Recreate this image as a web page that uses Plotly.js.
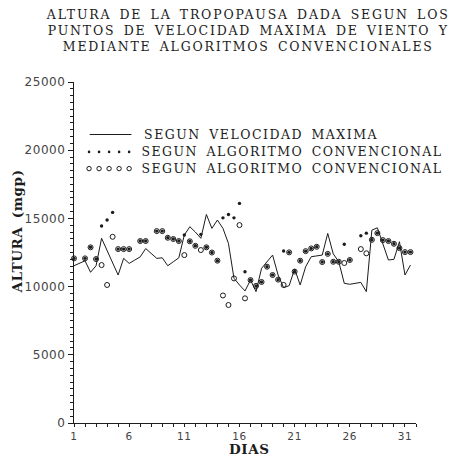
<!DOCTYPE html>
<html>
<head>
<meta charset="utf-8">
<script src="https://cdn.plot.ly/plotly-3.0.1.min.js"></script>
<style>
  html, body { margin: 0; padding: 0; background: #fff; }
  #chart { width: 453px; height: 456px; }
  .gtitle { letter-spacing: 1.8px; word-spacing: 2.5px; }
  .annotation-text { letter-spacing: 0.6px; word-spacing: 3px; }
  .annotation[data-index="0"] .annotation-text,
  .annotation[data-index="1"] .annotation-text,
  .annotation[data-index="2"] .annotation-text { letter-spacing: 1.5px; word-spacing: 3px; }
  .xtick text, .ytick text { letter-spacing: 0.6px; }
</style>
</head>
<body>
<div id="chart"></div>
<script>
// Two soundings per day: day 1, 1.5, 2, ... 31.5
const dias = [1, 1.5, 2, 2.5, 3, 3.5, 4, 4.5, 5, 5.5, 6, 6.5, 7, 7.5, 8, 8.5, 9, 9.5, 10, 10.5,
  11, 11.5, 12, 12.5, 13, 13.5, 14, 14.5, 15, 15.5, 16, 16.5, 17, 17.5, 18, 18.5, 19, 19.5, 20, 20.5,
  21, 21.5, 22, 22.5, 23, 23.5, 24, 24.5, 25, 25.5, 26, 26.5, 27, 27.5, 28, 28.5, 29, 29.5, 30, 30.5,
  31, 31.5];

// Tropopause height (mgp) from the maximum wind level
const velocidadMaxima = [11530, 11700, 11890, 11050, 11530, 13540, 12600, 11700, 10850, 12070,
  11700, 11940, 12180, 12790, 12420, 12070, 12110, 11530, 11820, 12110,
  13780, 14390, 14000, 13540, 15290, 14270, 14880, 14270, 13170, 10610,
  10120, 9680, 10480, 9630, 11340, 11830, 12310, 10850, 9920, 10070,
  11290, 10120, 11460, 12190, 12240, 12310, 13900, 12400, 11820, 10240,
  10170, 10240, 10310, 9630, 14140, 14310, 13100, 11950, 12000, 13290,
  10850, 11580];

// Conventional algorithm, first criterion (small dots)
const algoritmoPuntos = [12070, null, 12070, 12880, 12020, 14440, 14880, 15440, 12750, 12750,
  12750, null, 13340, 13340, null, 14070, 14070, 13580, 13490, 13340,
  13780, 13320, 12990, 13830, 12880, 12500, 11900, 15040, 15290, 15040,
  16100, 11090, 10480, 10050, 10340, 11460, 10850, 10510, 12610, 12510,
  11100, 11900, 12600, 12800, 12920, 11800, 12400, 11820, 11820, 13110,
  11950, null, 13730, 13920, 13430, 13920, 13410, 13340, 13140, 12820,
  12530, 12530];

// Conventional algorithm, second criterion (open circles)
const algoritmoCirculos = [12070, null, 12070, 12880, 12020, 11580, 10120, 13650, 12750, 12750,
  12750, null, 13340, 13340, null, 14070, 14070, 13580, 13490, 13340,
  12310, 13320, 12990, 12680, 12880, 12500, 11900, 9350, 8650, 10600,
  14510, 9140, 10480, 10050, 10340, 11460, 10850, 10510, 10120, 12510,
  11100, 11900, 12600, 12800, 12920, 11800, 12400, 11820, 11820, 11730,
  11950, null, 12750, 12440, 13430, 13920, 13410, 13340, 13140, 12820,
  12530, 12530];

const nombresSeries = ['SEGUN VELOCIDAD MAXIMA', 'SEGUN ALGORITMO CONVENCIONAL', 'SEGUN ALGORITMO CONVENCIONAL'];

const INK = '#1c1c1c';
const serif = 'DejaVu Serif, Liberation Serif, serif';
const sans = 'DejaVu Sans, Liberation Sans, sans-serif';

const traces = [
  {
    x: dias, y: velocidadMaxima, type: 'scatter', mode: 'lines',
    line: { color: INK, width: 1 }, cliponaxis: false, showlegend: false
  },
  {
    x: dias, y: algoritmoCirculos, type: 'scatter', mode: 'markers',
    marker: { symbol: 'circle-open', size: 5, color: INK, line: { width: 1, color: INK } },
    cliponaxis: false, showlegend: false
  },
  {
    x: dias, y: algoritmoPuntos, type: 'scatter', mode: 'markers',
    marker: { symbol: 'circle', size: 3.4, color: INK },
    cliponaxis: false, showlegend: false
  }
];

// Hand-drawn key: line sample, row of dots, row of circles
const filas = [0.846, 0.795, 0.746];
const shapes = [{
  type: 'line', xref: 'paper', yref: 'paper',
  x0: 0.046, x1: 0.168, y0: filas[0], y1: filas[0],
  line: { color: INK, width: 1 }
}];
for (let k = 0; k < 5; k++) {
  const xc = 0.044 + k * 0.0293;
  shapes.push({
    type: 'circle', xref: 'paper', yref: 'paper',
    xsizemode: 'pixel', ysizemode: 'pixel', xanchor: xc, yanchor: filas[1],
    x0: -1.3, x1: 1.3, y0: -1.3, y1: 1.3,
    fillcolor: INK, line: { width: 0 }
  });
  shapes.push({
    type: 'circle', xref: 'paper', yref: 'paper',
    xsizemode: 'pixel', ysizemode: 'pixel', xanchor: xc, yanchor: filas[2],
    x0: -2.2, x1: 2.2, y0: -2.2, y1: 2.2,
    line: { color: INK, width: 1 }
  });
}

const annotations = nombresSeries.map((t, k) => ({
  text: t, xref: 'paper', yref: 'paper', x: 0.228, y: filas[k],
  xanchor: 'left', yanchor: 'middle', showarrow: false,
  font: { family: serif, size: 12.5, color: INK }
}));
annotations.push({
  text: 'ALTURA (mgp)', xref: 'paper', yref: 'paper', x: -0.168, y: 0.56,
  xanchor: 'center', yanchor: 'middle', textangle: -90, showarrow: false,
  font: { family: serif, size: 13.5, color: INK, weight: 'bold' }
});
annotations.push({
  text: 'DIAS', xref: 'paper', yref: 'paper', x: 0.514, y: -0.076,
  xanchor: 'center', yanchor: 'middle', showarrow: false,
  font: { family: serif, size: 13.5, color: INK, weight: 'bold' }
});

const layout = {
  width: 453, height: 456,
  paper_bgcolor: '#fff', plot_bgcolor: '#fff',
  margin: { l: 74, r: 37, t: 82, b: 33, pad: 0 },
  title: {
    text: 'ALTURA DE LA TROPOPAUSA DADA SEGUN LOS<br>PUNTOS DE VELOCIDAD MAXIMA DE VIENTO Y<br>MEDIANTE ALGORITMOS CONVENCIONALES',
    x: 0.548, xanchor: 'center', xref: 'container',
    y: 0.959, yanchor: 'top', yref: 'container',
    font: { family: serif, size: 12.5, color: INK }
  },
  xaxis: {
    range: [1, 32], tick0: 1, dtick: 5,
    ticks: 'outside', ticklen: 3, tickwidth: 1, tickcolor: INK,
    minor: { tick0: 1, dtick: 1, ticks: 'outside', ticklen: 3, tickwidth: 1, tickcolor: INK },
    showline: true, linecolor: INK, linewidth: 1,
    showgrid: false, zeroline: false,
    tickfont: { family: sans, size: 10.5, color: '#444' }
  },
  yaxis: {
    range: [0, 25000], tick0: 0, dtick: 5000, tickformat: 'd',
    ticks: 'outside', ticklen: 5, tickwidth: 1, tickcolor: INK,
    minor: { dtick: 500, ticks: 'outside', ticklen: 3, tickwidth: 1, tickcolor: INK },
    showline: true, linecolor: INK, linewidth: 1,
    showgrid: false, zeroline: false,
    tickfont: { family: sans, size: 12, color: '#444' }
  },
  shapes: shapes,
  annotations: annotations,
  showlegend: false
};

Plotly.newPlot('chart', traces, layout, { staticPlot: true, displayModeBar: false });
</script>
</body>
</html>
